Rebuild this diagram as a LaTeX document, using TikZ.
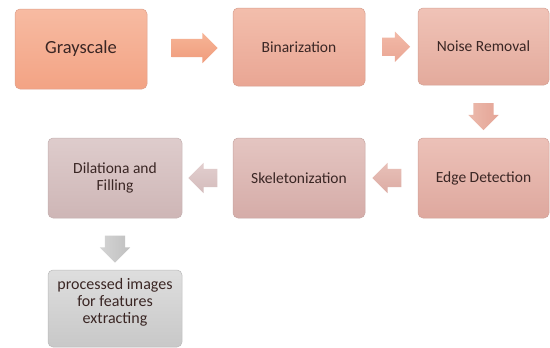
\documentclass[tikz,border=0pt]{standalone}
\usepackage{fontspec}
\setmainfont{Carlito}
\usetikzlibrary{shapes.arrows,calc}
\definecolor{txt}{HTML}{3A2624}
\tikzset{
  stepbox/.style={rounded corners=5pt, inner sep=2pt, align=center,
    font=\fontsize{15.5}{17}\selectfont, text=txt, line width=0.5pt},
  blockarrow/.style={single arrow, draw=none, inner xsep=0pt, inner ysep=9pt,
    single arrow head extend=6pt, anchor=center},
  downarrow/.style={single arrow, draw=none, inner xsep=0pt, inner ysep=10pt,
    single arrow head extend=5pt, anchor=center, rotate=-90},
}
\begin{document}
\begin{tikzpicture}[x=1pt,y=-1pt]
\useasboundingbox (0,0) rectangle (550,348);
\fill[white] (0,0) rectangle (550,348);
\node[stepbox, font=\fontsize{18.5}{20}\selectfont, top color={rgb,255:red,247;green,187;blue,162}, bottom color={rgb,255:red,243;green,163;blue,132}, draw={rgb,255:red,222;green,160;blue,140}, minimum width=132pt, minimum height=80pt] (g) at (81,49) {Grayscale};
\node[stepbox, top color={rgb,255:red,243;green,190;blue,172}, bottom color={rgb,255:red,233;green,166;blue,148}, draw={rgb,255:red,215;green,158;blue,142}, minimum width=132pt, minimum height=78pt] (b) at (299,47) {Binarization};
\node[stepbox, top color={rgb,255:red,240;green,195;blue,183}, bottom color={rgb,255:red,227;green,170;blue,156}, draw={rgb,255:red,212;green,162;blue,150}, minimum width=131pt, minimum height=77pt] (n) at (483.5,46.5) {Noise Removal};
\node[stepbox, top color={rgb,255:red,236;green,193;blue,184}, bottom color={rgb,255:red,222;green,168;blue,158}, draw={rgb,255:red,208;green,162;blue,154}, minimum width=131pt, minimum height=80pt] (e) at (483.5,178) {Edge Detection};
\node[stepbox, top color={rgb,255:red,228;green,197;blue,193}, bottom color={rgb,255:red,213;green,172;blue,168}, draw={rgb,255:red,200;green,166;blue,162}, minimum width=132pt, minimum height=80pt] (s) at (299,178) {Skeletonization};
\node[stepbox, top color={rgb,255:red,222;green,204;blue,204}, bottom color={rgb,255:red,206;green,182;blue,182}, draw={rgb,255:red,196;green,176;blue,176}, minimum width=134pt, minimum height=80pt] (d) at (115,178) {Dilationa and\\Filling};
\node[stepbox, top color={rgb,255:red,222;green,222;blue,222}, bottom color={rgb,255:red,200;green,200;blue,200}, draw={rgb,255:red,186;green,186;blue,186}, minimum width=134pt, minimum height=77pt] (p) at (115,308.5) {};
\node[font=\fontsize{16}{17}\selectfont, text=txt, align=center] (pt) at (115,302.5) {processed images\\for features\\extracting};
% block arrows
\node[blockarrow, minimum height=46pt, top color={rgb,255:red,246;green,180;blue,150}, bottom color={rgb,255:red,240;green,156;blue,124}] (a1) at ($(g.east)!0.5!(b.west)$) {};
\node[blockarrow, minimum height=28pt, top color={rgb,255:red,242;green,186;blue,168}, bottom color={rgb,255:red,234;green,166;blue,148}] (a2) at ($(b.east)!0.5!(n.west)$) {};
\node[downarrow, minimum height=27pt, left color={rgb,255:red,236;green,186;blue,172}, right color={rgb,255:red,228;green,164;blue,150}] (a3) at ($(n.south)!0.5!(e.north)$) {};
\node[blockarrow, minimum height=29pt, shape border rotate=180, top color={rgb,255:red,232;green,192;blue,184}, bottom color={rgb,255:red,220;green,172;blue,164}] (a4) at ($(s.east)!0.5!(e.west)$) {};
\node[blockarrow, minimum height=29pt, shape border rotate=180, top color={rgb,255:red,226;green,206;blue,206}, bottom color={rgb,255:red,212;green,188;blue,188}] (a5) at ($(d.east)!0.5!(s.west)$) {};
\node[downarrow, minimum height=27pt, left color={rgb,255:red,212;green,212;blue,212}, right color={rgb,255:red,192;green,192;blue,192}] (a6) at ($(d.south)!0.5!(p.north)$) {};
\end{tikzpicture}
\end{document}
